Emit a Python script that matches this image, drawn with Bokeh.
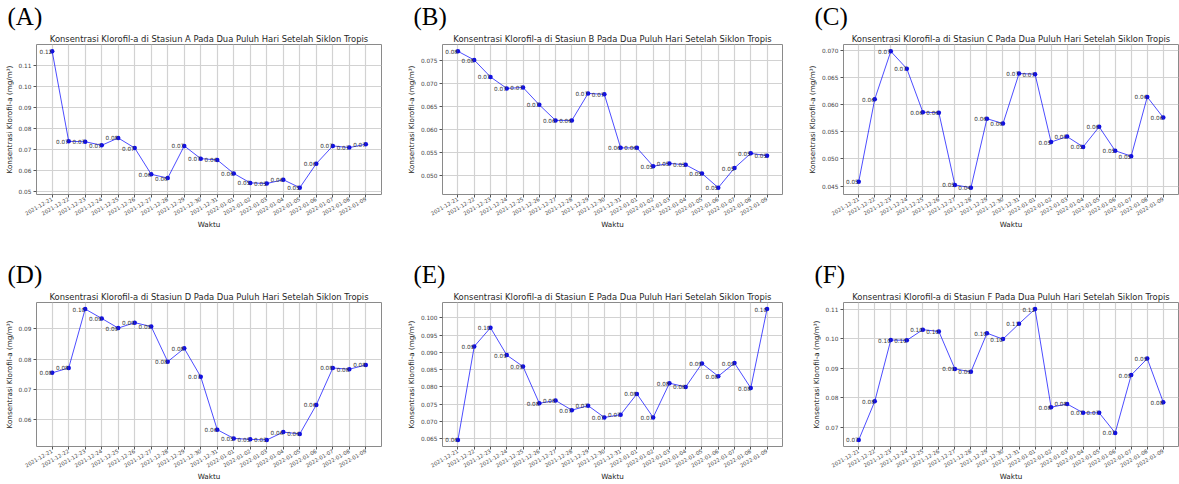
import math
from bokeh.plotting import figure
from bokeh.layouts import gridplot
from bokeh.models import Range1d, FixedTicker, PrintfTickFormatter, Title, ColumnDataSource
from bokeh.core.properties import value
from bokeh.embed import file_html
from bokeh.resources import INLINE

dates = ["2021-12-21", "2021-12-22", "2021-12-23", "2021-12-24", "2021-12-25",
         "2021-12-26", "2021-12-27", "2021-12-28", "2021-12-29", "2021-12-30",
         "2021-12-31", "2022-01-01", "2022-01-02", "2022-01-03", "2022-01-04",
         "2022-01-05", "2022-01-06", "2022-01-07", "2022-01-08", "2022-01-09"]

station_a = [0.1169, 0.0738, 0.0736, 0.0719, 0.0754, 0.0706, 0.0580, 0.0562, 0.0716, 0.0655,
             0.0649, 0.0584, 0.0539, 0.0536, 0.0554, 0.0516, 0.0631, 0.0716, 0.0708, 0.0724]
station_b = [0.0771, 0.0752, 0.0715, 0.0690, 0.0692, 0.0654, 0.0620, 0.0620, 0.0679, 0.0677,
             0.0560, 0.0560, 0.0520, 0.0526, 0.0523, 0.0504, 0.0473, 0.0516, 0.0548, 0.0543]
station_c = [0.0458, 0.0610, 0.0698, 0.0666, 0.0586, 0.0585, 0.0452, 0.0447, 0.0574, 0.0565,
             0.0657, 0.0656, 0.0531, 0.0541, 0.0522, 0.0559, 0.0515, 0.0505, 0.0614, 0.0576]
station_d = [0.0755, 0.0771, 0.0966, 0.0935, 0.0903, 0.0921, 0.0908, 0.0792, 0.0836, 0.0742,
             0.0567, 0.0538, 0.0535, 0.0533, 0.0559, 0.0553, 0.0649, 0.0771, 0.0767, 0.0781]
station_e = [0.0647, 0.0917, 0.0971, 0.0892, 0.0859, 0.0753, 0.0761, 0.0733, 0.0746, 0.0712,
             0.0720, 0.0780, 0.0712, 0.0811, 0.0800, 0.0868, 0.0831, 0.0869, 0.0797, 0.1025]
station_f = [0.0657, 0.0788, 0.0996, 0.0995, 0.1031, 0.1025, 0.0898, 0.0888, 0.1019, 0.0999,
             0.1051, 0.1101, 0.0768, 0.0779, 0.0749, 0.0749, 0.0681, 0.0877, 0.0933, 0.0785]

ticks_a = [0.05, 0.06, 0.07, 0.08, 0.09, 0.10, 0.11]
ticks_b = [0.050, 0.055, 0.060, 0.065, 0.070, 0.075]
ticks_c = [0.045, 0.050, 0.055, 0.060, 0.065, 0.070]
ticks_d = [0.06, 0.07, 0.08, 0.09]
ticks_e = [0.065, 0.070, 0.075, 0.080, 0.085, 0.090, 0.095, 0.100]
ticks_f = [0.07, 0.08, 0.09, 0.10, 0.11]

panel_letters = ["A", "B", "C", "D", "E", "F"]
series = [station_a, station_b, station_c, station_d, station_e, station_f]
ticks = [ticks_a, ticks_b, ticks_c, ticks_d, ticks_e, ticks_f]
formats = ["%.2f", "%.3f", "%.3f", "%.2f", "%.3f", "%.2f"]

# layout (borders) per panel: left, right, top, bottom
borders = [(36, 12, 44, 45), (49, 3, 44, 48), (57, 1, 44, 48),
           (36, 12, 60, 30), (48, 4, 60, 31), (53, 1, 60, 31)]

FONT = "DejaVu Sans"
figs = []
for i, (letter, vals, tk, fmt) in enumerate(zip(panel_letters, series, ticks, formats)):
    bl, br, bt, bb = borders[i]
    n = len(vals)
    lo, hi = min(vals), max(vals)
    m = 0.05 * (hi - lo)
    xm = 0.05 * (n - 1)
    p = figure(width=393, height=242, output_backend="svg", toolbar_location=None,
               x_range=Range1d(-xm, n - 1 + xm), y_range=Range1d(lo - m, hi + m),
               min_border_left=bl, min_border_right=br, min_border_top=bt, min_border_bottom=bb)
    # panel letter (outermost title)
    p.title.text = f"({letter})"
    p.title.align = "left"
    p.title.offset = -29
    p.title.text_font = "Liberation Serif"
    p.title.text_font_size = "25px"
    p.title.text_font_style = "normal"
    p.title.text_color = "#000000"
    p.title.standoff = 1
    # chart title (closest to the frame)
    p.add_layout(Title(text=f"Konsentrasi Klorofil-a di Stasiun {letter} Pada Dua Puluh Hari Setelah Siklon Tropis",
                       align="center", text_font=FONT, text_font_size="8.4px",
                       text_font_style="normal", text_color="#262626", standoff=2), "above")

    idx = list(range(n))
    src = ColumnDataSource(dict(x=idx, y=vals, lab=[f"{v:.2f}" for v in vals]))
    p.line("x", "y", source=src, line_color="blue", line_alpha=0.7, line_width=1)
    p.scatter("x", "y", source=src, size=4.5, fill_color="#1010e0", line_color=None)
    p.text("x", "y", text="lab", source=src, text_align="right", text_baseline="alphabetic",
           text_font_size="5.7px", text_color="#333333", text_font=value(FONT))

    p.xaxis.ticker = FixedTicker(ticks=idx)
    p.xaxis.major_label_overrides = {j: d for j, d in enumerate(dates)}
    p.xaxis.major_label_orientation = math.pi / 6
    p.xaxis.axis_label = "Waktu"
    p.yaxis.ticker = FixedTicker(ticks=tk)
    p.yaxis.formatter = PrintfTickFormatter(format=fmt)
    p.yaxis.axis_label = "Konsentrasi Klorofil-a (mg/m³)"
    for ax in (p.xaxis, p.yaxis):
        ax.axis_line_color = None
        ax.major_tick_line_color = "#555555"
        ax.major_tick_out = 3
        ax.major_tick_in = 0
        ax.minor_tick_line_color = None
        ax.major_label_text_font = FONT
        ax.major_label_text_color = "#444444"
        ax.major_label_standoff = 2
        ax.axis_label_text_font = FONT
        ax.axis_label_text_font_style = "normal"
        ax.axis_label_text_color = "#222222"
        ax.axis_label_text_font_size = "7.2px"
        ax.axis_label_standoff = 2
    p.xaxis.major_label_standoff = 1
    p.xaxis.axis_label_standoff = 0
    p.xaxis.major_label_text_font_size = "5.3px"
    p.yaxis.major_label_text_font_size = "5.8px"
    p.xgrid.grid_line_color = "#d2d2d2"
    p.ygrid.grid_line_color = "#d2d2d2"
    p.xgrid.grid_line_width = 1.2
    p.ygrid.grid_line_width = 1.2
    p.outline_line_color = "#8a8a8a"
    p.outline_line_width = 1
    p.background_fill_color = "white"
    p.border_fill_color = "white"
    figs.append(p)

grid = gridplot([figs[:3], figs[3:]], toolbar_location=None)
open("out.html", "w").write(file_html(grid, INLINE))
